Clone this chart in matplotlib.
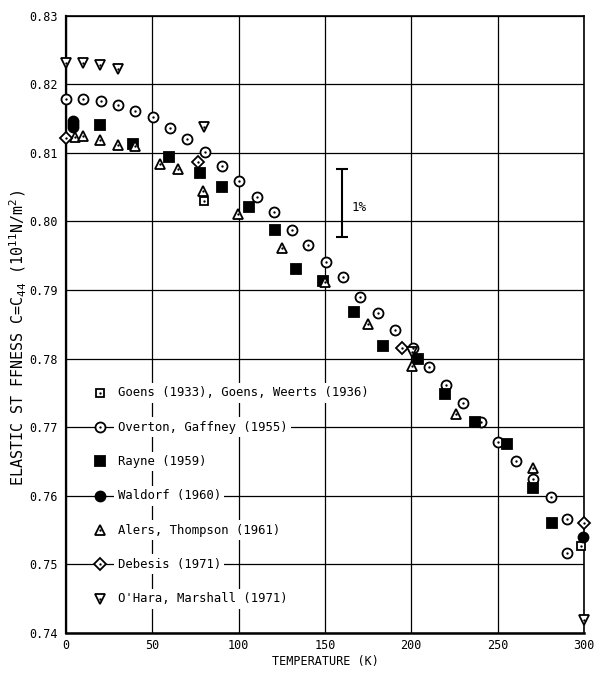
import matplotlib
matplotlib.use("Agg")
import matplotlib.pyplot as plt

plt.rcParams['font.family'] = ['DejaVu Sans Mono', 'DejaVu Sans']

# data (temperature K, C44 in 1e11 N/m^2)
goens_T = [80.0, 298.0]
goens_C = [0.8029, 0.7527]

overton_T = [0, 9.7, 20.1, 30.3, 40.1, 50.2, 60.2, 69.9, 80.5, 90.5, 100.4,
             110.5, 120.5, 130.7, 140.3, 150.6, 160.3, 170.3, 180.5, 190.6,
             200.8, 210.4, 220.1, 230.1, 240.4, 250.4, 260.5, 270.7, 280.7,
             290.4, 290.4]
overton_C = [0.8179, 0.8178, 0.8175, 0.8169, 0.8161, 0.8152, 0.8136, 0.8120,
             0.8101, 0.8080, 0.8059, 0.8036, 0.8014, 0.7988, 0.7965, 0.7941,
             0.7919, 0.7890, 0.7866, 0.7841, 0.7816, 0.7788, 0.7762, 0.7735,
             0.7707, 0.7679, 0.7651, 0.7625, 0.7598, 0.7566, 0.7516]

rayne_T = [19.7, 38.6, 59.8, 77.6, 90.5, 106.2, 121.1, 133.0, 148.7, 166.8,
           183.8, 204.1, 219.5, 236.9, 255.2, 270.3, 281.3]
rayne_C = [0.8141, 0.8113, 0.8094, 0.8071, 0.8050, 0.8021, 0.7988, 0.7931,
           0.7913, 0.7868, 0.7819, 0.7800, 0.7748, 0.7708, 0.7676, 0.7611,
           0.7560]

waldorf_T = [4.2, 4.2, 4.2, 299.6]
waldorf_C = [0.8146, 0.8142, 0.8137, 0.7540]

alers_T = [5.2, 10, 19.7, 29.9, 40, 54.4, 65, 79.5, 99.8, 125.3, 150, 175.1,
           200.2, 225.9, 270.3]
alers_C = [0.8123, 0.8124, 0.8119, 0.8111, 0.8110, 0.8084, 0.8076, 0.8044,
           0.8010, 0.7961, 0.7911, 0.7851, 0.7789, 0.7719, 0.7641]

debesis_T = [0, 76.6, 194.4, 300]
debesis_C = [0.8122, 0.8087, 0.7815, 0.7560]

ohara_T = [0, 9.7, 19.7, 29.9, 80, 200.2, 300]
ohara_C = [0.8231, 0.8231, 0.8228, 0.8222, 0.8138, 0.7810, 0.7419]

legend_labels = ["Goens (1933), Goens, Weerts (1936)",
                 "Overton, Gaffney (1955)",
                 "Rayne (1959)",
                 "Waldorf (1960)",
                 "Alers, Thompson (1961)",
                 "Debesis (1971)",
                 "O'Hara, Marshall (1971)"]
legend_y = [0.775, 0.770, 0.765, 0.760, 0.755, 0.750, 0.745]

# marker style for each set: (marker, size, filled, centre dot)
styles = [('s', 6.0, False, True),
          ('o', 7.2, False, True),
          ('s', 6.5, True, False),
          ('o', 7.2, True, False),
          ('^', 7.6, False, True),
          ('D', 6.2, False, True),
          ('v', 7.6, False, True)]


def draw(ax, T, C, style, z=3):
    m, ms, filled, dot = style
    ax.plot(T, C, ls='none', marker=m, ms=ms, mew=1.3, mec='black',
            mfc='black' if filled else 'white', clip_on=False, zorder=z)
    if dot:
        ax.plot(T, C, ls='none', marker='o', ms=1.7, mew=0, mfc='black',
                clip_on=False, zorder=z + 0.1)


fig = plt.figure(figsize=(5.96, 6.83), dpi=100)
ax = fig.add_axes([0.1107, 0.0732, 0.8691, 0.9041])

sets = [(goens_T, goens_C), (overton_T, overton_C), (rayne_T, rayne_C),
        (waldorf_T, waldorf_C), (alers_T, alers_C), (debesis_T, debesis_C),
        (ohara_T, ohara_C)]
for (T, C), st in zip(sets, styles):
    draw(ax, T, C, st)

# legend drawn by hand inside the grid
for y, lab, st in zip(legend_y, legend_labels, styles):
    draw(ax, [19.7], [y], st, z=5)
    ax.text(30, y, lab, fontsize=8.8, ha='left', va='center', zorder=4,
            bbox=dict(facecolor='white', edgecolor='none', pad=2.5))

# 1% bar
ax.errorbar([160], [0.8027], yerr=[0.005], color='black', lw=1.5,
            capsize=4, capthick=1.5, zorder=3)
ax.text(165.5, 0.8020, "1%", fontsize=9, ha='left', va='center')

ax.set_xlim(0, 300)
ax.set_ylim(0.74, 0.83)
ax.set_xticks(range(0, 301, 50))
ax.set_yticks([0.74 + 0.01 * i for i in range(10)])
ax.set_yticklabels(["%.2f" % (0.74 + 0.01 * i) for i in range(10)])
ax.tick_params(length=0, labelsize=8.5)
ax.tick_params(axis='y', pad=6)
ax.tick_params(axis='x', pad=4)
ax.grid(True, color='black', lw=0.9, zorder=1)
ax.set_axisbelow(True)
for s in ax.spines.values():
    s.set_linewidth(1.2)
ax.spines['bottom'].set_linewidth(1.8)
ax.spines['left'].set_linewidth(1.6)

ax.set_xlabel("TEMPERATURE (K)", fontsize=8.5)
ax.xaxis.set_label_coords(0.5, -0.036)
ax.set_ylabel("ELASTIC ST FFNESS C=C$_{44}$ (10$^{11}$N/m$^{2}$)",
              fontsize=10.8)
ax.yaxis.set_label_coords(-0.072, 0.478)

fig.savefig("out.png", dpi=100)
